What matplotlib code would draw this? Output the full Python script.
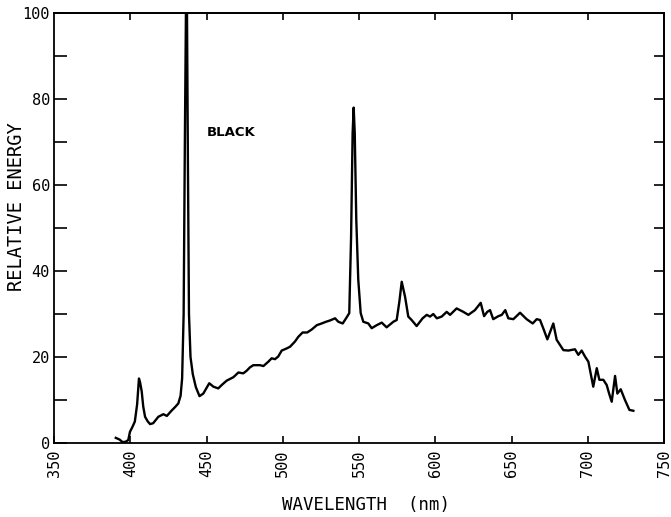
import matplotlib
matplotlib.use("Agg")
import matplotlib.pyplot as plt
from matplotlib.ticker import MultipleLocator

# spectrum
wavelength = [390.5, 393, 395, 397, 398.7, 399.8, 401.5, 403, 404.5, 405.7, 406.5, 407.5,
              408.5, 409.7, 411.5, 413, 415, 418.4, 421.7, 424, 427, 429.5, 431.5, 433,
              434, 435, 435.8, 436.5, 437.2, 437.8, 438.5, 439.5, 441, 443, 445.4, 447.9,
              451.8, 454.5, 457.7, 460, 463.2, 467.6, 470.9, 474.1, 476.3, 478.5, 480.7,
              485, 487.3, 490.5, 492.7, 494.9, 497, 499.3, 502.6, 504.8, 508, 510.2, 513,
              516, 519, 522.3, 525.5, 528.4, 531, 534.3, 536.4, 539.3, 541.5, 543.6, 544.8,
              545.8, 546.5, 547.2, 548.2, 549.5, 551.1, 552.8, 556.1, 558.3, 561.6, 564.9,
              568.1, 572.5, 574.7, 576.5, 578, 580.2, 582.3, 584.5, 587.8, 591.7, 594.4,
              596.6, 598.7, 601, 604.2, 607.5, 609.7, 614, 618.4, 621.7, 626, 629.8, 632,
              634.1, 635.9, 638, 641.4, 643.6, 645.9, 647.9, 651.2, 655.6, 659.9, 663.9,
              666.5, 668.7, 671, 673.5, 675.5, 677.4, 679.6, 684, 687.3, 691.6, 693.8, 696,
              698.2, 700.4, 702, 703.6, 705.9, 707.6, 710.2, 712.4, 714, 715.7, 717.9,
              719.4, 721.6, 724.4, 727.3, 729.9]
energy = [1.2, 0.8, 0.2, 0.3, 0.7, 2.6, 3.8, 5, 9, 15, 14, 12,
          8.5, 6.1, 5, 4.4, 4.6, 6.1, 6.7, 6.3, 7.5, 8.4, 9.2, 11,
          15, 30, 70, 100, 100, 65, 30, 20, 16, 13, 10.9, 11.5,
          13.9, 13.1, 12.7, 13.5, 14.5, 15.3, 16.4, 16.2, 16.8, 17.6, 18.1,
          18.1, 17.9, 18.9, 19.7, 19.5, 20.1, 21.5, 22, 22.4, 23.6, 24.7, 25.7,
          25.7, 26.4, 27.4, 27.8, 28.2, 28.5, 29, 28.2, 27.8, 29, 30.2, 48,
          72, 78, 72, 52, 38, 30.2, 28.2, 27.8, 26.7, 27.4, 28,
          26.9, 28.2, 28.6, 33, 37.5, 34, 29.4, 28.6, 27.2, 29, 29.8,
          29.4, 30, 29, 29.4, 30.5, 29.8, 31.3, 30.5, 29.8, 30.9, 32.6, 29.5,
          30.5, 30.9, 28.8, 29.5, 29.8, 30.9, 29, 28.8, 30.3, 28.8, 27.8,
          28.8, 28.6, 26.5, 24.1, 26, 27.8, 24, 21.6, 21.5, 21.8, 20.5, 21.5,
          20.1, 18.9, 16, 13.1, 17.4, 14.7, 14.7, 13.5, 11.5, 9.6, 15.6,
          11.5, 12.5, 10, 7.7, 7.5]

x_ticks = [350, 400, 450, 500, 550, 600, 650, 700, 750]
y_ticks = [0, 20, 40, 60, 80, 100]

mono = "DejaVu Sans Mono"

fig = plt.figure(figsize=(6.71, 5.17), dpi=100)
ax = fig.add_axes([0.0805, 0.1431, 0.9091, 0.8318])

ax.plot(wavelength, energy, color="black", lw=1.7, solid_joinstyle="round")

ax.set_xlim(350, 750)
ax.set_ylim(0, 100)
ax.set_xticks(x_ticks)
ax.set_yticks(y_ticks)
ax.yaxis.set_minor_locator(MultipleLocator(10))
ax.set_xticklabels([str(t) for t in x_ticks], rotation=90, family=mono, fontsize=11)
ax.set_yticklabels([str(t) for t in y_ticks], family=mono, fontsize=11)

ax.tick_params(axis="y", which="both", direction="in", length=9, width=1.2, pad=3)
ax.tick_params(axis="x", which="both", direction="in", length=5, width=1.2, pad=5)

# ticks on the top and right frame, no labels
top = ax.secondary_xaxis("top")
top.set_xticks(x_ticks[1:-1])
top.tick_params(direction="in", length=5, width=1.2, labeltop=False)
right = ax.secondary_yaxis("right")
right.set_yticks(list(range(10, 100, 10)))
right.tick_params(direction="in", length=7, width=1.2, labelright=False)

for s in ax.spines.values():
    s.set_linewidth(1.3)
for s in list(top.spines.values()) + list(right.spines.values()):
    s.set_linewidth(1.3)

ax.set_xlabel("WAVELENGTH  (nm)", family=mono, fontsize=12.5)
ax.xaxis.set_label_coords(0.511, -0.124)
ax.set_ylabel("RELATIVE ENERGY", family=mono, fontsize=13.5)
ax.yaxis.set_label_coords(-0.046, 0.549)

ax.text(450.3, 72.1, "BLACK", fontsize=9.5, fontweight="bold", va="center", ha="left")

fig.savefig("out.png", dpi=100)
